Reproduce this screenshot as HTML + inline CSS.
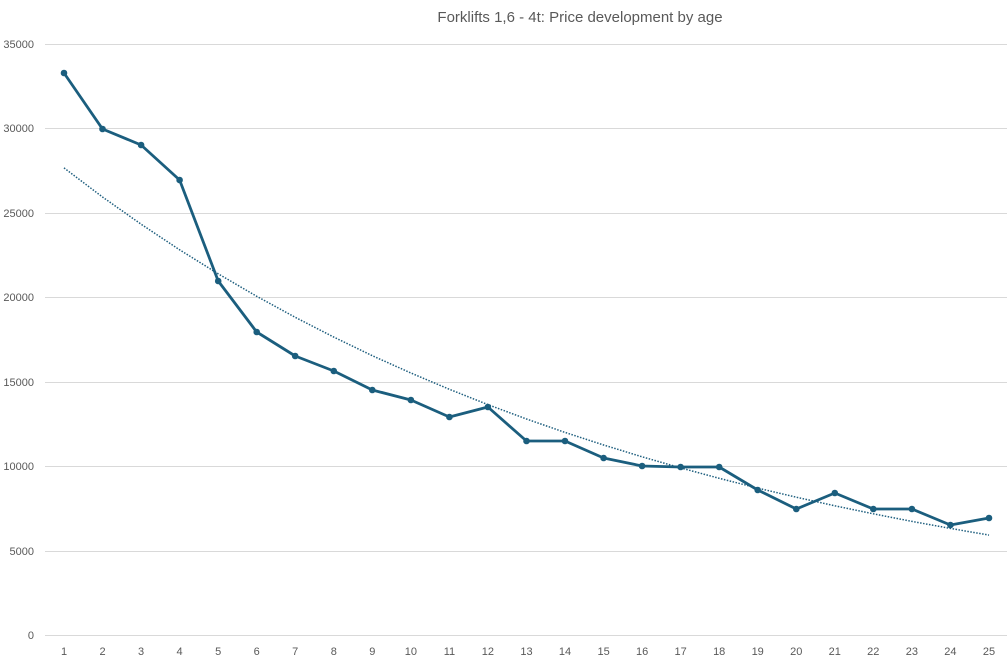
<!DOCTYPE html>
<html><head><meta charset="utf-8"><style>
html,body{margin:0;padding:0;background:#fff;}
svg{display:block;font-family:"Liberation Sans",sans-serif;}
</style></head><body>
<svg width="1007" height="662" viewBox="0 0 1007 662">
<rect width="1007" height="662" fill="#fff"/>
<text x="580" y="22" text-anchor="middle" font-size="15" fill="#595959">Forklifts 1,6 - 4t: Price development by age</text>
<g stroke="#d9d9d9" stroke-width="1">
<line x1="45" x2="1007" y1="44.5" y2="44.5"/>
<line x1="45" x2="1007" y1="128.5" y2="128.5"/>
<line x1="45" x2="1007" y1="213.5" y2="213.5"/>
<line x1="45" x2="1007" y1="297.5" y2="297.5"/>
<line x1="45" x2="1007" y1="382.5" y2="382.5"/>
<line x1="45" x2="1007" y1="466.5" y2="466.5"/>
<line x1="45" x2="1007" y1="551.5" y2="551.5"/>
<line x1="45" x2="1007" y1="635.5" y2="635.5"/>
</g>
<g font-size="11" fill="#595959" text-anchor="end">
<text x="34" y="48">35000</text><text x="34" y="132">30000</text><text x="34" y="217">25000</text>
<text x="34" y="301">20000</text><text x="34" y="386">15000</text><text x="34" y="470">10000</text>
<text x="34" y="555">5000</text><text x="34" y="639">0</text>
</g>
<g font-size="11" fill="#595959" text-anchor="middle">
<text x="64" y="655">1</text><text x="102.5" y="655">2</text><text x="141.1" y="655">3</text><text x="179.6" y="655">4</text><text x="218.2" y="655">5</text><text x="256.7" y="655">6</text><text x="295.2" y="655">7</text><text x="333.8" y="655">8</text><text x="372.3" y="655">9</text><text x="410.9" y="655">10</text><text x="449.4" y="655">11</text><text x="487.9" y="655">12</text><text x="526.5" y="655">13</text><text x="565" y="655">14</text><text x="603.6" y="655">15</text><text x="642.1" y="655">16</text><text x="680.6" y="655">17</text><text x="719.2" y="655">18</text><text x="757.7" y="655">19</text><text x="796.3" y="655">20</text><text x="834.8" y="655">21</text><text x="873.3" y="655">22</text><text x="911.9" y="655">23</text><text x="950.4" y="655">24</text><text x="989" y="655">25</text>
</g>
<polyline fill="none" stroke="#1f5f7f" stroke-width="1.5" stroke-dasharray="1.5,1.5" points="64,167.9 102.5,197 141.1,224.2 179.6,249.8 218.2,273.8 256.7,296.3 295.2,317.3 333.8,337.1 372.3,355.7 410.9,373 449.4,389.3 487.9,404.6 526.5,419 565,432.4 603.6,445 642.1,456.8 680.6,467.9 719.2,478.3 757.7,488.1 796.3,497.2 834.8,505.8 873.3,513.8 911.9,521.4 950.4,528.4 989,535.1"/>
<polyline fill="none" stroke="#1b5e7e" stroke-width="2.8" stroke-linejoin="round" points="64,73 102.5,129 141.1,145 179.6,180 218.2,281 256.7,332 295.2,356 333.8,371 372.3,390 410.9,400 449.4,417 487.9,407 526.5,441 565,441 603.6,458 642.1,466 680.6,467 719.2,467 757.7,490 796.3,509 834.8,493 873.3,509 911.9,509 950.4,525 989,518"/>
<g fill="#1b5e7e">
<circle cx="64" cy="73" r="3.3"/><circle cx="102.5" cy="129" r="3.3"/><circle cx="141.1" cy="145" r="3.3"/><circle cx="179.6" cy="180" r="3.3"/><circle cx="218.2" cy="281" r="3.3"/><circle cx="256.7" cy="332" r="3.3"/><circle cx="295.2" cy="356" r="3.3"/><circle cx="333.8" cy="371" r="3.3"/><circle cx="372.3" cy="390" r="3.3"/><circle cx="410.9" cy="400" r="3.3"/><circle cx="449.4" cy="417" r="3.3"/><circle cx="487.9" cy="407" r="3.3"/><circle cx="526.5" cy="441" r="3.3"/><circle cx="565" cy="441" r="3.3"/><circle cx="603.6" cy="458" r="3.3"/><circle cx="642.1" cy="466" r="3.3"/><circle cx="680.6" cy="467" r="3.3"/><circle cx="719.2" cy="467" r="3.3"/><circle cx="757.7" cy="490" r="3.3"/><circle cx="796.3" cy="509" r="3.3"/><circle cx="834.8" cy="493" r="3.3"/><circle cx="873.3" cy="509" r="3.3"/><circle cx="911.9" cy="509" r="3.3"/><circle cx="950.4" cy="525" r="3.3"/><circle cx="989" cy="518" r="3.3"/>
</g>
</svg>
</body></html>
